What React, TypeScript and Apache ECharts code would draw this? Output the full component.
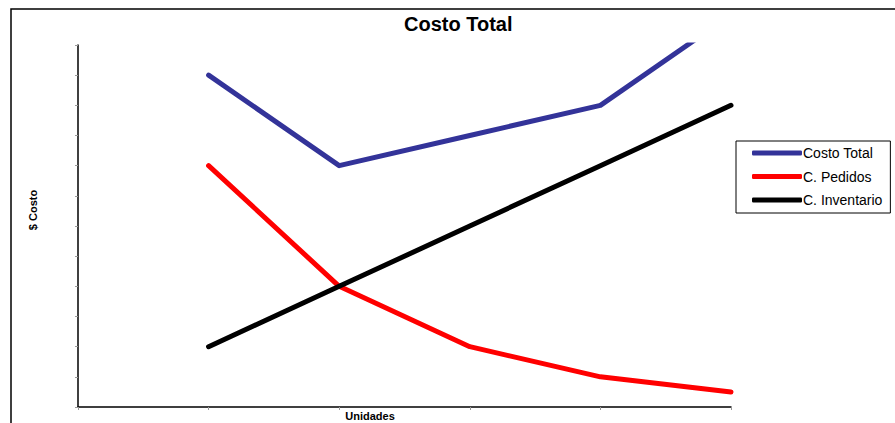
import React, { useEffect, useRef } from "react";
import * as echarts from "echarts";

const unidades = [1, 2, 3, 4, 5];
const costoTotal = [11, 8, 9, 10, 13];
const cPedidos = [8, 4, 2, 1, 0.5];
const cInventario = [2, 4, 6, 8, 10];
const seriesNames = ["Costo Total", "C. Pedidos", "C. Inventario"];
const chartTitle = "Costo Total";
const xName = "Unidades";
const yName = "$ Costo";

const FONT = "'Liberation Sans', Arial, sans-serif";

export default function App() {
  const ref = useRef<HTMLDivElement>(null);
  useEffect(() => {
    if (!ref.current) return;
    const chart = echarts.init(ref.current, undefined, { renderer: "svg" });
    const pair = (vals: number[]) => unidades.map((u, i) => [u, vals[i]]);
    const lineSeries = (name: string, vals: number[], color: string) => ({
      name,
      type: "line",
      data: pair(vals),
      showSymbol: false,
      symbol: "none",
      clip: true,
      lineStyle: { color, width: 5, cap: "round", join: "round" },
      itemStyle: { color },
    });
    chart.setOption({
      animation: false,
      backgroundColor: "#ffffff",
      title: {
        text: chartTitle,
        left: 404,
        top: 14,
        padding: 0,
        textStyle: { fontFamily: FONT, fontSize: 20, fontWeight: "bold", color: "#000" },
      },
      grid: { left: 78, right: 164, top: 45, bottom: 16, containLabel: false },
      xAxis: {
        type: "value",
        min: 0,
        max: 5,
        interval: 1,
        axisLine: { show: true, lineStyle: { color: "#000", width: 1.5 } },
        axisTick: { show: true, inside: false, length: 3, lineStyle: { color: "#999" } },
        axisLabel: { show: false },
        splitLine: { show: false },
      },
      yAxis: {
        type: "value",
        min: 0,
        max: 12,
        interval: 1,
        axisLine: { show: true, lineStyle: { color: "#000", width: 1.5 } },
        axisTick: { show: true, inside: false, length: 3, lineStyle: { color: "#999" } },
        axisLabel: { show: false },
        splitLine: { show: false },
      },
      legend: {
        orient: "vertical",
        left: 736,
        top: 141,
        data: seriesNames,
        icon: "roundRect",
        itemWidth: 50,
        itemHeight: 5,
        itemGap: 9.5,
        padding: [5, 8, 6, 16],
        borderColor: "#000",
        borderWidth: 1,
        textStyle: { fontFamily: FONT, fontSize: 14, color: "#000", padding: [0, 0, 0, -4] },
      },
      graphic: [
        {
          type: "rect",
          shape: { x: 11, y: 9, width: 1000, height: 1000 },
          style: { fill: "none", stroke: "#000", lineWidth: 1.5 },
          silent: true,
        },
        {
          type: "text",
          x: 370,
          y: 416,
          style: {
            text: xName,
            fontFamily: FONT,
            fontSize: 11,
            fontWeight: "bold",
            fill: "#000",
            align: "center",
            verticalAlign: "middle",
          },
        },
        {
          type: "text",
          x: 33,
          y: 210,
          rotation: Math.PI / 2,
          style: {
            text: yName,
            fontFamily: FONT,
            fontSize: 11,
            fontWeight: "bold",
            fill: "#000",
            align: "center",
            verticalAlign: "middle",
          },
        },
      ],
      series: [
        lineSeries(seriesNames[0], costoTotal, "#333399"),
        lineSeries(seriesNames[1], cPedidos, "#ff0000"),
        lineSeries(seriesNames[2], cInventario, "#000000"),
      ],
    });
    return () => chart.dispose();
  }, []);
  return (
    <div
      ref={ref}
      style={{ position: "fixed", left: 0, top: 0, width: 895, height: 423 }}
    />
  );
}
